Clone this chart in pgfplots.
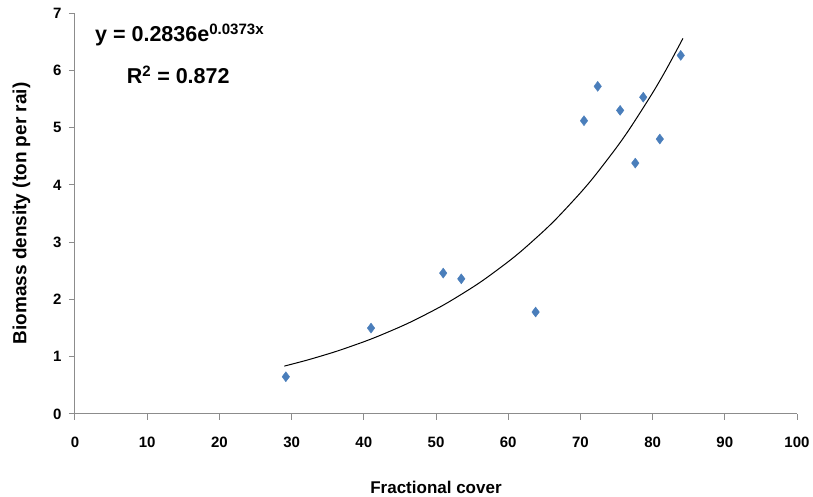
\documentclass[border=0pt]{standalone}
\usepackage{pgfplots}
\pgfplotsset{compat=1.18}
\usepackage{fontspec}
\setmainfont{Liberation Sans}
\definecolor{pt}{HTML}{4A7EBB}
\definecolor{ax}{HTML}{8C8C8C}
\begin{document}
\begin{tikzpicture}
\begin{axis}[
  scale only axis,
  width=722pt, height=401pt,
  xmin=0, xmax=100, ymin=0, ymax=7,
  axis x line=bottom, axis y line=left,
  axis line style={ax, line width=1pt, -},
  every tick/.style={ax, line width=1pt},
  tick align=outside,
  major tick length=6pt,
  xtick={0,10,...,100}, ytick={0,1,...,7},
  /pgf/number format/assume math mode=true,
  tick label style={font=\fontsize{15}{18}\selectfont\bfseries},
  xticklabel style={yshift=-13pt},
  yticklabel style={xshift=-4pt},
  xlabel={Fractional cover},
  ylabel={Biomass density (ton per rai)},
  xlabel style={font=\fontsize{17}{20}\selectfont\bfseries, yshift=-27pt},
  ylabel style={font=\fontsize{19}{22}\selectfont\bfseries, yshift=16pt},
  clip=false,
]
\addplot[only marks, mark=diamond*, mark size=5pt, mark options={pt, fill=pt}] coordinates {
(29.2,0.65) (41.0,1.50) (51.0,2.46) (53.5,2.36) (63.8,1.78) (70.5,5.12)
(72.4,5.72) (75.5,5.30) (77.6,4.38) (78.7,5.53) (81.0,4.80) (83.9,6.26)
};
\addplot[black, line width=1pt, smooth] coordinates {
(29,0.8365) (32,0.9356) (35,1.0464) (37,1.1275) (40,1.2609) (42,1.3586)
(45,1.5195) (47,1.6370) (50,1.8309) (52,1.9726) (55,2.2063) (57,2.3772)
(60,2.6586) (62,2.8644) (65,3.2038) (67,3.4520) (70,3.8607) (72,4.1593)
(75,4.6521) (77,5.0126) (80,5.6060) (82,6.0396) (84.2,6.557)
};
\node[anchor=west, font=\fontsize{21.5}{24}\selectfont\bfseries] at (axis cs:2.3,6.62) {y = 0.2836e\textsuperscript{0.0373x}};
\node[font=\fontsize{21.5}{24}\selectfont\bfseries] at (axis cs:14.3,5.92) {R\textsuperscript{2} = 0.872};
\end{axis}
\pgfresetboundingbox
\path[use as bounding box] ([shift={(-75pt,-83pt)}]current axis.south west) rectangle ([shift={(16pt,13pt)}]current axis.north east);
\end{tikzpicture}
\end{document}
